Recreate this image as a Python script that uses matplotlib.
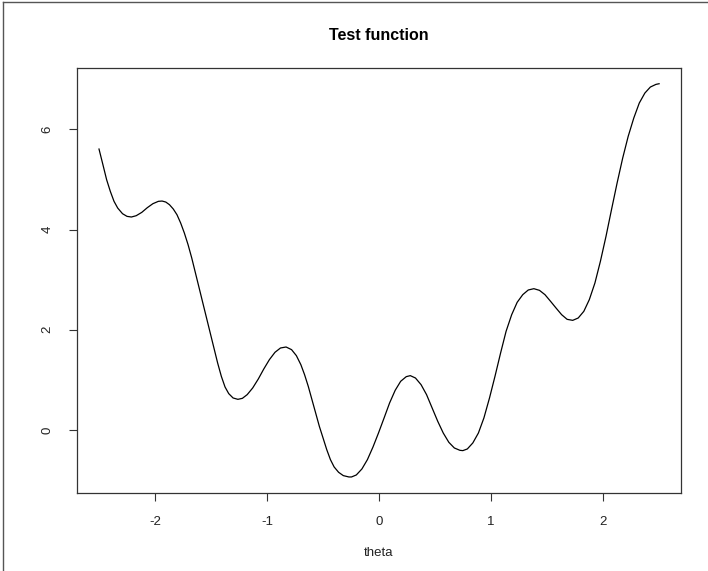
import matplotlib
matplotlib.use("Agg")
import matplotlib.pyplot as plt
from matplotlib.lines import Line2D

plt.rcParams['font.family'] = ['Liberation Sans', 'DejaVu Sans']

title = "Test function"
xlabel = "theta"
xticks = [-2, -1, 0, 1, 2]
yticks = [0, 2, 4, 6]

theta = [-2.500, -2.465, -2.432, -2.399, -2.366, -2.333, -2.290, -2.250, -2.211,
         -2.168, -2.118, -2.069, -2.019, -1.970, -1.937, -1.904, -1.871, -1.837,
         -1.804, -1.771, -1.738, -1.705, -1.672, -1.639, -1.606, -1.573, -1.540,
         -1.507, -1.474, -1.441, -1.408, -1.375, -1.342, -1.303, -1.260, -1.220,
         -1.177, -1.128, -1.078, -1.029, -0.979, -0.929, -0.880, -0.830, -0.781,
         -0.738, -0.698, -0.665, -0.632, -0.599, -0.566, -0.533, -0.500, -0.467,
         -0.434, -0.401, -0.361, -0.319, -0.269, -0.246, -0.203, -0.153, -0.104,
         -0.054, -0.005, 0.045, 0.094, 0.144, 0.193, 0.243, 0.279, 0.325, 0.375,
         0.424, 0.474, 0.524, 0.573, 0.623, 0.672, 0.722, 0.748, 0.788, 0.837,
         0.887, 0.936, 0.986, 1.035, 1.085, 1.134, 1.184, 1.233, 1.283, 1.332,
         1.382, 1.432, 1.481, 1.531, 1.580, 1.630, 1.679, 1.729, 1.778, 1.828,
         1.877, 1.927, 1.976, 2.026, 2.075, 2.125, 2.175, 2.224, 2.274, 2.323,
         2.373, 2.422, 2.472, 2.500]
value = [5.608, 5.295, 4.996, 4.763, 4.564, 4.430, 4.317, 4.264, 4.251,
         4.277, 4.344, 4.437, 4.517, 4.564, 4.570, 4.550, 4.497, 4.411,
         4.297, 4.131, 3.931, 3.699, 3.432, 3.133, 2.834, 2.534, 2.235,
         1.935, 1.636, 1.337, 1.071, 0.858, 0.725, 0.638, 0.611, 0.631,
         0.705, 0.838, 1.017, 1.217, 1.403, 1.550, 1.636, 1.656, 1.603,
         1.483, 1.303, 1.104, 0.871, 0.605, 0.339, 0.072, -0.160, -0.393,
         -0.593, -0.739, -0.846, -0.912, -0.939, -0.939, -0.899, -0.779, -0.593,
         -0.340, -0.061, 0.239, 0.538, 0.791, 0.971, 1.064, 1.084, 1.037, 0.904,
         0.705, 0.438, 0.172, -0.061, -0.247, -0.360, -0.407, -0.413, -0.380, -0.260,
         -0.061, 0.239, 0.638, 1.071, 1.536, 1.969, 2.301, 2.548, 2.701, 2.794,
         2.820, 2.787, 2.701, 2.568, 2.434, 2.301, 2.208, 2.188, 2.235, 2.368,
         2.601, 2.933, 3.366, 3.865, 4.397, 4.929, 5.428, 5.861, 6.227, 6.526,
         6.726, 6.846, 6.899, 6.912]

W, H = 708, 571
fig = plt.figure(figsize=(W / 100, H / 100), dpi=100)
ax = fig.add_axes([76.6 / W, (H - 492.7) / H, (681.5 - 76.6) / W, (492.7 - 68) / H])

ax.plot(theta, value, color='black', lw=0.9, solid_joinstyle='round')

xmin, xmax = min(theta), max(theta)
dx = (xmax - xmin) * 0.04
ax.set_xlim(xmin - dx, xmax + dx)
ymin, ymax = min(value), max(value)
dy = (ymax - ymin) * 0.04
ax.set_ylim(ymin - dy, ymax + dy)

ax.set_xticks(xticks)
ax.set_xticklabels([str(t) for t in xticks])
ax.set_yticks(yticks)
ax.set_yticklabels([str(t) for t in yticks], rotation=90, va='center')
ax.tick_params(axis='both', direction='out', length=6, width=0.8, color='#333333',
               labelsize=9.5, pad=10.5, labelcolor='#222222')

for s in ax.spines.values():
    s.set_linewidth(0.9)
    s.set_color('#333333')

fig.text(379 / W, 1 - 35 / H, title, ha='center', va='center',
         fontsize=11.5, fontweight='bold')
fig.text(379 / W, 1 - 553 / H, xlabel, ha='center', va='center',
         fontsize=9.5, color='#222222')

# outer frame (left and top edges)
fig.add_artist(Line2D([3.3 / W, 3.3 / W], [0, 1 - 2 / H], transform=fig.transFigure,
                      color='#555555', lw=1.0))
fig.add_artist(Line2D([3.3 / W, 1], [1 - 2 / H, 1 - 2 / H], transform=fig.transFigure,
                      color='#555555', lw=1.0))

fig.savefig("out.png", dpi=100)
